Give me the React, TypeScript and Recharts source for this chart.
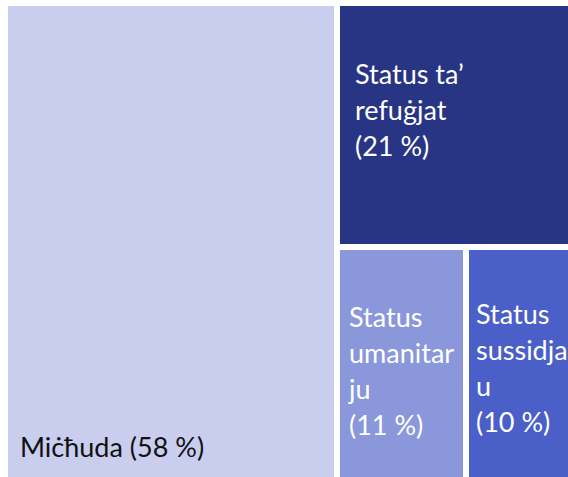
import { Treemap } from "recharts"

const categories = ["Miċħuda", "Status ta’ refuġjat", "Status umanitarju", "Status sussidjarju"]
const shares = [58.2, 20.8, 11.4, 9.6]
const labelLines = [
    ["Miċħuda (58 %)"],
    ["Status ta’", "refuġjat", "(21 %)"],
    ["Status", "umanitar", "ju", "(11 %)"],
    ["Status", "sussidjarj", "u", "(10 %)"],
]
const colors = ["#C9CDEE", "#283584", "#8A97DB", "#4B5FC9"]
const textColors = ["#111111", "#FFFFFF", "#FFFFFF", "#FFFFFF"]

const treeData = categories.map((name, i) => ({
    name,
    size: shares[i],
    lines: labelLines[i],
    fill: colors[i],
    textFill: textColors[i],
}))

const GAP = 6
const LINE_H = 36
// left padding / vertical nudge for each cell label
const padX = [12, 15, 9, 7]
const nudgeY = [0, -14, 1, -2]

const Cell = (props: any) => {
    const { x, y, width, height, depth, index, lines, fill, textFill } = props
    if (depth !== 1) return null
    const w = Math.max(width - GAP, 0)
    const h = Math.max(height - GAP, 0)
    const n = lines.length
    let firstBase: number
    if (index === 0) {
        firstBase = y + h - 35
    } else {
        firstBase = y + h / 2 - ((n - 1) * LINE_H) / 2 + 9 + nudgeY[index]
    }
    return (
        <g>
            <rect x={x} y={y} width={w} height={h} fill={fill} />
            <text
                x={x + padX[index]}
                y={firstBase}
                fill={textFill}
                fontFamily="Lato, 'Open Sans', sans-serif"
                fontSize={27}
            >
                {lines.map((line: string, i: number) => (
                    <tspan key={i} x={x + padX[index]} y={firstBase + i * LINE_H}>
                        {line}
                    </tspan>
                ))}
            </text>
        </g>
    )
}

export default function App() {
    return (
        <div
            style={{
                position: "fixed",
                left: 8,
                top: 6,
                width: 560,
                height: 471,
                overflow: "hidden",
                background: "#fff",
            }}
        >
            <Treemap
                width={571}
                height={492}
                data={treeData}
                dataKey="size"
                nameKey="name"
                aspectRatio={1.3}
                isAnimationActive={false}
                content={<Cell />}
            />
        </div>
    )
}
